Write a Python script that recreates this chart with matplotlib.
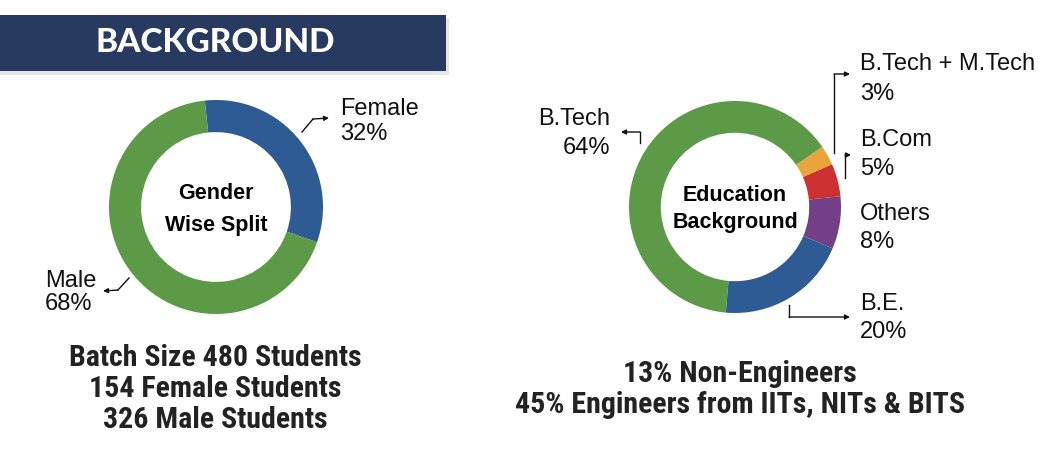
import matplotlib
matplotlib.use("Agg")
import matplotlib.pyplot as plt
from matplotlib import font_manager
from matplotlib.patches import Rectangle

W, H = 1048, 450

# --- data ---
gender_labels = ["Female", "Male"]
gender_share = [32, 68]
gender_colors = ["#2e5b94", "#5c9a48"]

edu_labels = ["B.E.", "Others", "B.Com", "B.Tech + M.Tech", "B.Tech"]
edu_share = [20, 8, 5, 3, 64]
edu_colors = ["#2e5b94", "#733f87", "#cc3030", "#e9a43b", "#5c9a48"]

gender_notes = ["Batch Size 480 Students", "154 Female Students", "326 Male Students"]
edu_notes = ["13% Non-Engineers", "45% Engineers from IITs, NITs & BITS"]

LABEL_FONT = ["Liberation Sans", "DejaVu Sans"]

# pick a narrow bold face if one is installed
installed = {f.name for f in font_manager.fontManager.ttflist}
narrow = [n for n in ["Roboto Condensed", "Liberation Sans Narrow", "Open Sans Condensed",
                      "DejaVu Sans Condensed"] if n in installed]
NOTE_FONT = (narrow[:1] or ["Liberation Sans"]) + ["DejaVu Sans"]
NOTE_SIZE = 21.5 if narrow else 18.5

fig = plt.figure(figsize=(W / 100, H / 100), dpi=100)
fig.patch.set_facecolor("white")

# overlay axes in pixel coordinates (y down)
ov = fig.add_axes([0, 0, 1, 1])
ov.set_xlim(0, W)
ov.set_ylim(H, 0)
ov.axis("off")

# header bar with a faint shadow
ov.add_patch(Rectangle((0, 18), 449, 57, facecolor="#e6e6e6", edgecolor="none"))
ov.add_patch(Rectangle((0, 15), 446, 56, facecolor="#283a5f", edgecolor="none"))
ov.text(215, 43, "BACKGROUND", ha="center", va="center", color="white",
        fontsize=24, fontweight="black", family=["Lato", "DejaVu Sans"])


def donut(cx, cy, r, values, colors, start, ccw, title, spacing):
    ax = fig.add_axes([(cx - r) / W, (H - cy - r) / H, 2 * r / W, 2 * r / H])
    ax.pie(values, colors=colors, startangle=start, counterclock=ccw, radius=1,
           wedgeprops=dict(width=0.3, edgecolor="none"))
    ax.set_xlim(-1, 1)
    ax.set_ylim(-1, 1)
    ax.text(0, -0.02, title, ha="center", va="center", fontsize=15.5, fontweight="bold",
            family=LABEL_FONT, linespacing=spacing)
    return ax


donut(216, 207, 107, gender_share, gender_colors, 96, False, "Gender\nWise Split", 1.7)
donut(735, 207, 106, edu_share, edu_colors, -95, True, "Education\nBackground", 1.4)


def label(x, y1, y2, name, value, ha="left"):
    ov.text(x, y1, name, ha=ha, va="baseline", fontsize=17, family=LABEL_FONT, color="#111111")
    ov.text(x, y2, f"{value}%", ha=ha, va="baseline", fontsize=17, family=LABEL_FONT, color="#111111")


def elbow(pts):
    xs, ys = zip(*pts)
    ov.plot(xs[:-1], ys[:-1], color="#111111", lw=1)
    ov.annotate("", xy=pts[-1], xytext=pts[-2],
                arrowprops=dict(arrowstyle="-|>", color="#111111", lw=1,
                                mutation_scale=7, shrinkA=0, shrinkB=0))


# gender labels
label(340, 115, 140, gender_labels[0], gender_share[0])
elbow([(302, 132), (313, 119), (329, 118)])
label(45, 287, 310, gender_labels[1], gender_share[1])
elbow([(129, 278), (118, 290), (103, 291)])

# education labels
label(610, 125, 154, edu_labels[4], edu_share[4], ha="right")
elbow([(640, 143), (640, 132), (621, 132)])
label(860, 70, 100, edu_labels[3], edu_share[3])
elbow([(834, 153), (834, 74), (850, 74)])
label(860, 146, 175, edu_labels[2], edu_share[2])
elbow([(845, 178), (845, 155), (851, 155)])
label(860, 220, 248, edu_labels[1], edu_share[1])
label(860, 310, 338, edu_labels[0], edu_share[0])
elbow([(789, 305), (789, 317), (850, 317)])

# notes under the charts
for i, line in enumerate(gender_notes):
    ov.text(215, 366 + i * 31, line, ha="center", va="baseline", fontsize=NOTE_SIZE,
            fontweight="bold", family=NOTE_FONT, color="#222222")
for i, line in enumerate(edu_notes):
    ov.text(740, 382 + i * 31, line, ha="center", va="baseline", fontsize=NOTE_SIZE,
            fontweight="bold", family=NOTE_FONT, color="#222222")

fig.savefig("out.png", dpi=100, facecolor="white")
